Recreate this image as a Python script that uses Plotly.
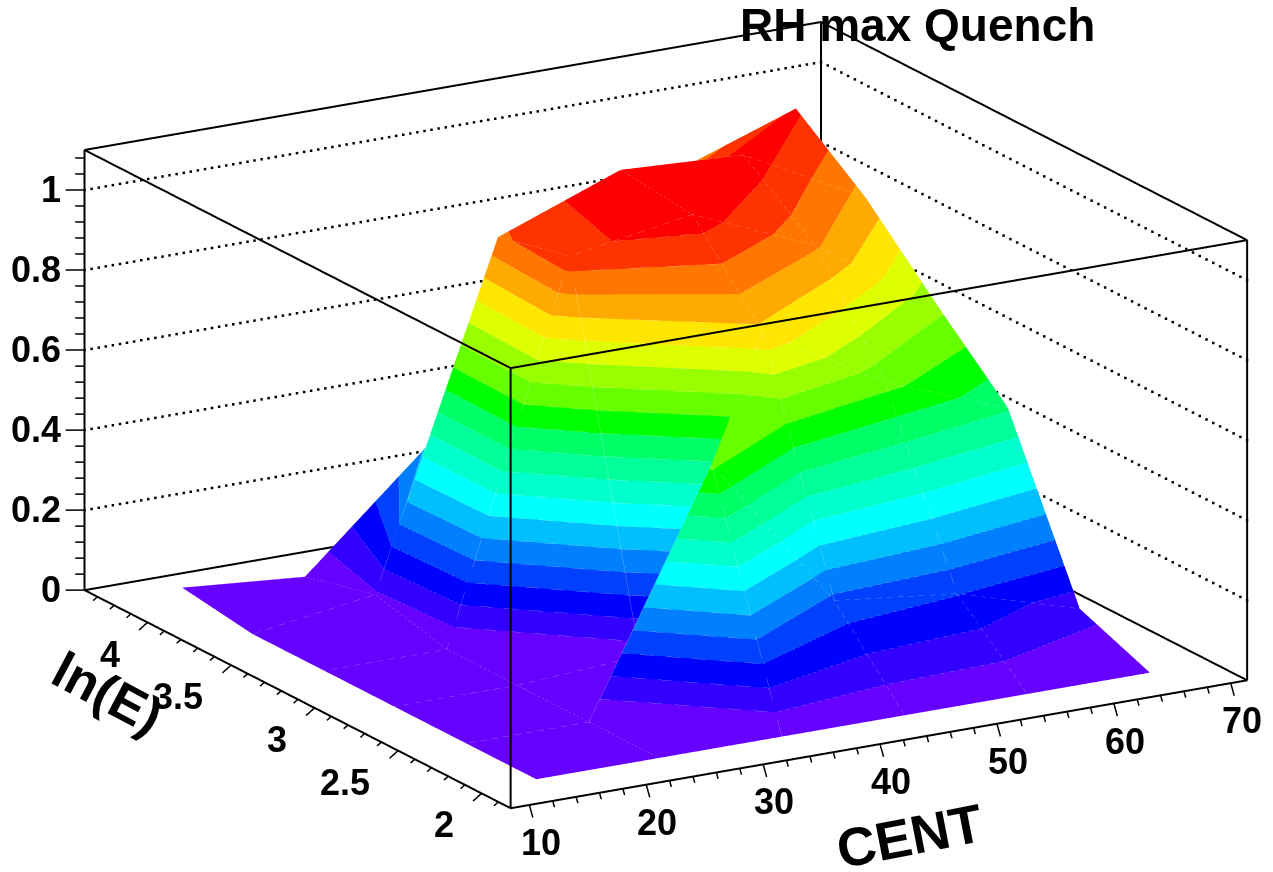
import plotly.graph_objects as go
import numpy as np

cent = [13.65, 24.15, 34.65, 45.15, 55.65, 66.15]
ln_e = [2.04, 2.46, 2.89, 3.31, 3.74, 4.16]
rh = [
    [0, 0, 0, 0, 0, 0],
    [0, 0, 0.59, 0.197, 0.161, 0.07],
    [0, 0, 0.02, 0.776, 0.597, 0.48],
    [0, 0, 0.93, 0.98, 0.85, 0.645],
    [0, 0.045, 0.885, 1.0, 0.984, 0.823],
    [0.026, 0, 0.275, 0.6, 0.85, 0.957],
]
band_colors = ["#6600ff", "#3300ff", "#0000ff", "#0040ff", "#0080ff", "#00bfff", "#00ffff",
               "#00ffcc", "#00ff99", "#00ff66", "#00ff00", "#66ff00", "#99ff00", "#ddff00",
               "#ffe600", "#ffaa00", "#ff7700", "#ff3300", "#ff0000"]
x_box = [8.4, 71.4]
y_box = [1.826, 4.377]
z_box = [0, 1.1]
z_grid = [0.2, 0.4, 0.6, 0.8, 1.0]
x_ticks = [10, 20, 30, 40, 50, 60, 70]
y_ticks = [2, 2.5, 3, 3.5, 4]
z_ticks = [0, 0.2, 0.4, 0.6, 0.8, 1]
x_minor = [v for v in range(10, 71, 2) if v % 10]
y_minor = [2 + 0.1 * k for k in range(-1, 24) if k % 5]
z_minor = [0.04 * k for k in range(0, 28) if k % 5]

n = len(band_colors)
levels = [k / n for k in range(n + 1)]


def clip(poly, level, keep_above):
    out = []
    for a, b in zip(poly, poly[1:] + poly[:1]):
        ina = (a[2] >= level) if keep_above else (a[2] <= level)
        inb = (b[2] >= level) if keep_above else (b[2] <= level)
        if ina:
            out.append(a)
        if ina != inb:
            t = (level - a[2]) / (b[2] - a[2])
            out.append(tuple(a[m] + t * (b[m] - a[m]) for m in range(3)))
    return out


vx, vy, vz, fi, fj, fk, fc = [], [], [], [], [], [], []
sx, sy, sz = [], [], []
LIFT = (-0.1194, -0.00847, 0.00243)


def seam(pts):
    for p in pts:
        sx.append(p[0] + LIFT[0])
        sy.append(p[1] + LIFT[1])
        sz.append(p[2] + LIFT[2])
    sx.append(None)
    sy.append(None)
    sz.append(None)


for r in range(len(ln_e) - 1):
    for c in range(len(cent) - 1):
        quad = [(cent[c], ln_e[r], rh[r][c]), (cent[c + 1], ln_e[r], rh[r][c + 1]),
                (cent[c + 1], ln_e[r + 1], rh[r + 1][c + 1]), (cent[c], ln_e[r + 1], rh[r + 1][c])]
        for b in range(n):
            poly = clip(quad, levels[b], True)
            if len(poly) < 3:
                continue
            poly = clip(poly, levels[b + 1], False)
            if len(poly) < 3:
                continue
            base = len(vx)
            for p in poly:
                vx.append(p[0]); vy.append(p[1]); vz.append(p[2])
            for m in range(1, len(poly) - 1):
                fi.append(base); fj.append(base + m); fk.append(base + m + 1); fc.append(band_colors[b])
            if b > 0:
                on = [p for p in poly if abs(p[2] - levels[b]) < 1e-9]
                if len(on) == 2:
                    seam(on)

fig = go.Figure()
fig.add_trace(go.Mesh3d(x=vx, y=vy, z=vz, i=fi, j=fj, k=fk, facecolor=fc, flatshading=True, hoverinfo="skip",
                        lighting=dict(ambient=1, diffuse=0, specular=0, roughness=1, fresnel=0)))
for r in range(len(ln_e)):
    seam([(cent[c], ln_e[r], rh[r][c]) for c in range(len(cent))])
for c in range(len(cent)):
    seam([(cent[c], ln_e[r], rh[r][c]) for r in range(len(ln_e))])
fig.add_trace(go.Scatter3d(x=sx, y=sy, z=sz, mode="lines", hoverinfo="skip", opacity=0.35,
                           line=dict(color="white", width=1)))


def line(xs, ys, zs, width=4):
    fig.add_trace(go.Scatter3d(x=xs, y=ys, z=zs, mode="lines", hoverinfo="skip",
                               line=dict(color="black", width=width)))


x0, x1 = x_box
y0, y1 = y_box
z0, z1 = z_box
dots_x, dots_y, dots_z = [], [], []
for z in z_grid:
    dots_x += list(np.linspace(x0, x1, 105)) + [x1] * 64
    dots_y += [y1] * 105 + list(np.linspace(y1, y0, 64))
    dots_z += [z] * 169
fig.add_trace(go.Scatter3d(x=dots_x, y=dots_y, z=dots_z, mode="markers", hoverinfo="skip",
                           marker=dict(color="black", size=1.3, symbol="square", line=dict(width=0))))
line([x0, x1, x1, x0, x0], [y0, y0, y1, y1, y0], [z1] * 5)
line([x0, x0], [y0, y0], [z0, z1])
line([x1, x1], [y0, y0], [z0, z1])
line([x0, x0], [y1, y1], [z0, z1])
line([x1, x1], [y1, y1], [z0, z1])
line([x0, x1, x1, x0, x0], [y0, y0, y1, y1, y0], [z0] * 5)


def ticks(points, dxv, dyv, dzv, width=3):
    xs, ys, zs = [], [], []
    for p in points:
        xs += [p[0], p[0] + dxv, None]
        ys += [p[1], p[1] + dyv, None]
        zs += [p[2], p[2] + dzv, None]
    line(xs, ys, zs, width=width)


ticks([(v, y0, z0) for v in x_ticks], 0, -0.021, -0.027)
ticks([(v, y0, z0) for v in x_minor], 0, -0.0105, -0.0135)
ticks([(x0, v, z0) for v in y_ticks], -0.73, 0, -0.0155)
ticks([(x0, v, z0) for v in y_minor if y0 <= v <= y1], -0.365, 0, -0.0078)
ticks([(x0, y1, v) for v in z_ticks], -1.2, 0.029, 0)
ticks([(x0, y1, v) for v in z_minor if v <= z1], -0.6, 0.0145, 0)

FONT = dict(family="Liberation Sans", size=36, color="black")
scene_notes = []
for v in x_ticks:
    scene_notes.append(dict(x=v, y=y0, z=z0, text="<b>%d</b>" % v, showarrow=False, xshift=11, yshift=-38, font=FONT))
for v in y_ticks:
    scene_notes.append(dict(x=x0, y=v, z=z0, text="<b>%g</b>" % v, showarrow=False, xanchor="right", xshift=-26, yshift=-32, font=FONT))
for v in z_ticks:
    scene_notes.append(dict(x=x0, y=y1, z=v, text="<b>%g</b>" % v, showarrow=False, xanchor="right", xshift=-22, yshift=0, font=FONT))

hidden = dict(visible=False, showgrid=False, zeroline=False, showbackground=False, showspikes=False)
fig.update_layout(
    width=1273, height=872, margin=dict(l=0, r=0, t=0, b=0), paper_bgcolor="white", showlegend=False,
    scene=dict(
        domain=dict(x=[0.049, 1], y=[0.0464, 1]),
        aspectmode="manual", aspectratio=dict(x=2.179, y=2.1782, z=1.1892),
        camera=dict(projection=dict(type="orthographic"), eye=dict(x=-1.922, y=-3.299, z=1.193), up=dict(x=0, y=0, z=1)),
        xaxis=dict(hidden, range=[x0 - 2, x1 + 2]),
        yaxis=dict(hidden, range=[y0 - 0.1, y1 + 0.08]),
        zaxis=dict(hidden, range=[z0 - 0.04, z1 + 0.04]),
        annotations=scene_notes,
    ),
    annotations=[
        dict(text="<b>RH max Quench</b>", x=917 / 1273, y=1 - 25 / 872, xref="paper", yref="paper", showarrow=False,
             xanchor="center", yanchor="middle", font=dict(family="Liberation Sans", size=46, color="black")),
        dict(text="<b>CENT</b>", x=909 / 1273, y=1 - 836 / 872, xref="paper", yref="paper", showarrow=False,
             xanchor="center", yanchor="middle", textangle=-11, font=dict(family="Liberation Sans", size=54, color="black")),
        dict(text="<b>ln(E)</b>", x=108 / 1273, y=1 - 693 / 872, xref="paper", yref="paper", showarrow=False,
             xanchor="center", yanchor="middle", textangle=28, font=dict(family="Liberation Sans", size=52, color="black")),
    ],
)
fig.write_html("out.html", config=dict(displayModeBar=False), post_script="document.body.style.margin='0';")
